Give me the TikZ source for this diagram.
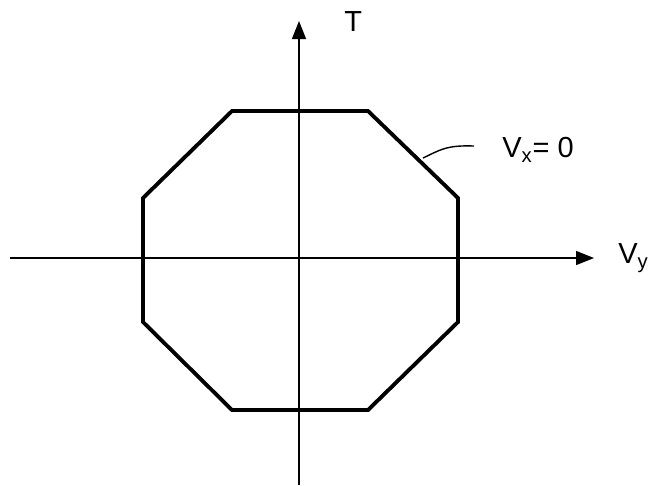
\documentclass[tikz,border=0pt]{standalone}
\usepackage{fontspec}
\setmainfont{Liberation Sans}
\usetikzlibrary{arrows.meta, positioning, calc}

\begin{document}
\begin{tikzpicture}[
    x=0.02cm, y=-0.02cm,
    axis/.style={line width=0.8pt, -{Triangle[length=0.36cm, width=0.28cm]}},
    oct/.style={line width=2.2pt, line join=miter},
    lbl/.style={font=\fontsize{16.5}{18}\selectfont, inner sep=0pt}
]
    \useasboundingbox (0,0) rectangle (651,485);
    % --- axes ---
    \coordinate (xs) at (10,258);
    \coordinate (xe) at (594,258);
    \coordinate (ys) at (299,485);
    \coordinate (ye) at (299,21);
    \draw[axis] (xs) -- (xe);
    \draw[axis] (ys) -- (ye);
    \node[lbl, anchor=west] (tlbl) at (344,22) {T};
    \node[lbl, anchor=west] (vylbl) at (618,258) {V\textsubscript{y}};
    % --- octagon ---
    \coordinate (p1) at (232,111);
    \coordinate (p2) at (368,111);
    \coordinate (p3) at (458,198);
    \coordinate (p4) at (458,322);
    \coordinate (p5) at (368,410);
    \coordinate (p6) at (232,410);
    \coordinate (p7) at (143,322);
    \coordinate (p8) at (143,198);
    \draw[oct] (p1) -- (p2) -- (p3) -- (p4) -- (p5) -- (p6) -- (p7) -- (p8) -- cycle;
    % --- leader ---
    \node[lbl, anchor=west] (vxlbl) at (502,150) {V\textsubscript{x}= 0};
    \coordinate (lead) at (423,158);
    \draw[line width=0.8pt] (lead) .. controls (440,150) and (446,145) .. (474,146);
\end{tikzpicture}
\end{document}
